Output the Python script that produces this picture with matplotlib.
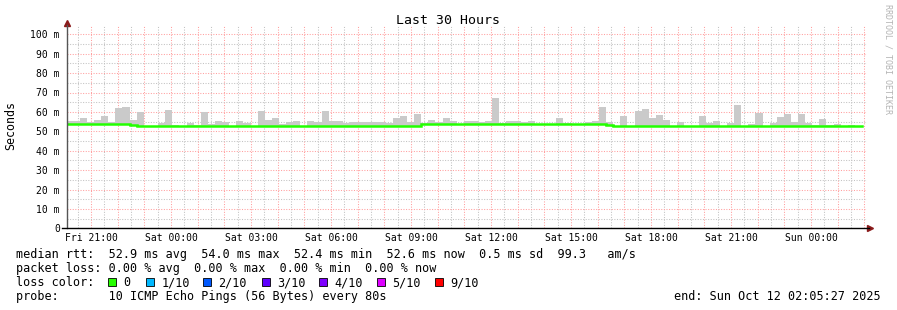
import matplotlib
matplotlib.use('Agg')
import matplotlib.pyplot as plt
from matplotlib.patches import Rectangle
import numpy as np

nan = float('nan')

# time axis is in hours counted from Fri 00:00
t_start = 20 + 3 / 60          # first smoke bar
t_step = 16 / 60               # 16 minute consolidation step
t_end = 20 + 5 / 60 + 27 / 3600 + 30   # Sun 02:05:27

# top of the smoke (ms) for every step, nan = nothing above the median
smoke_top = [
    55.2, 55.2, 57.1, 54.8, 56.0, 58.1, 54.8, 62.2, 62.7, 56.0,
    60.2, nan, nan, 54.2, 61.2, 53.5, nan, 54.2, 53.5, 60.2,
    53.8, 55.5, 54.8, nan, 55.5, 54.2, nan, 60.7, 56.0, 56.6,
    53.6, 54.7, 55.2, nan, 55.5, 54.7, 60.7, 55.5, 55.2, 54.2,
    54.7, 55.0, 54.7, 54.7, 54.7, 54.2, 56.7, 57.8, 54.7, 58.8,
    54.2, 56.0, 55.0, 57.1, 55.2, nan, 55.5, 55.5, 54.8, 55.5,
    67.4, 54.3, 55.5, 55.5, 54.8, 55.2, nan, nan, nan, 56.6,
    54.5, nan, nan, 55.0, 55.5, 62.7, 55.0, nan, 58.1, nan,
    60.7, 61.7, 57.1, 58.6, 56.0, nan, 55.0, nan, nan, 58.1,
    54.2, 55.5, nan, 54.5, 63.6, nan, 53.6, 59.4, nan, 54.3,
    57.4, 58.9, 54.8, 58.9, 54.3, 53.3, 56.2, 53.3, 53.6, nan,
    53.0, nan,
]

# median rtt (ms) for every step
median = [
    54.0, 54.0, 54.0, 54.0, 54.0, 54.0, 54.0, 54.0, 54.0, 53.4,
    52.5, 52.5, 52.5, 52.5, 52.5, 52.5, 52.5, 52.5, 52.5, 52.5,
    52.5, 52.5, 52.5, 52.5, 52.5, 52.5, 52.5, 52.5, 52.5, 52.5,
    52.5, 52.5, 52.5, 52.5, 52.5, 52.5, 52.5, 52.5, 52.5, 52.5,
    52.5, 52.5, 52.5, 52.5, 52.5, 52.5, 52.5, 52.5, 52.5, 52.5,
    53.7, 53.7, 53.7, 53.7, 53.7, 53.7, 53.7, 53.7, 53.7, 53.7,
    53.7, 53.7, 53.7, 53.7, 53.7, 53.7, 53.7, 53.7, 53.7, 53.7,
    53.7, 53.7, 53.7, 53.7, 53.7, 53.7, 53.2, 52.6, 52.6, 52.6,
    52.6, 52.6, 52.6, 52.6, 52.6, 52.6, 52.6, 52.6, 52.6, 52.6,
    52.6, 52.6, 52.6, 52.6, 52.6, 52.6, 52.6, 52.6, 52.6, 52.6,
    52.6, 52.6, 52.6, 52.6, 52.6, 52.6, 52.6, 52.6, 52.6, 52.6,
    52.6, 52.6,
]

tick_hours = [21, 24, 27, 30, 33, 36, 39, 42, 45, 48]
tick_labels = ['Fri 21:00', 'Sat 00:00', 'Sat 03:00', 'Sat 06:00', 'Sat 09:00',
               'Sat 12:00', 'Sat 15:00', 'Sat 18:00', 'Sat 21:00', 'Sun 00:00']
y_ticks = [0, 10, 20, 30, 40, 50, 60, 70, 80, 90, 100]
y_labels = ['0', '10 m', '20 m', '30 m', '40 m', '50 m', '60 m', '70 m', '80 m', '90 m', '100 m']

legend_rows = [
    'median rtt:  52.9 ms avg  54.0 ms max  52.4 ms min  52.6 ms now  0.5 ms sd  99.3   am/s',
    'packet loss: 0.00 % avg  0.00 % max  0.00 % min  0.00 % now',
    'loss color:',
    'probe:       10 ICMP Echo Pings (56 Bytes) every 80s',
]
loss_labels = ['0', '1/10', '2/10', '3/10', '4/10', '5/10', '9/10']
loss_colors = ['#26ff00', '#00b8ff', '#0059ff', '#5e00ff', '#7e00ff', '#dd00ff', '#ff0000']
end_text = 'end: Sun Oct 12 02:05:27 2025'

# ---- layout (pixels) ----
W, H = 897, 310
mono = 'DejaVu Sans Mono'


def fx(x):
    return x / W


def fy(y):
    return 1 - y / H


fig = plt.figure(figsize=(W / 100, H / 100), dpi=100)
fig.patch.set_facecolor('white')
ax = fig.add_axes([fx(66.7), fy(228.3), 800 / W, 203.3 / H])
ax.set_xlim(t_end - 30, t_end)
ax.set_ylim(0, 203.3 / 1.94)

# grid
dot = (0, (1, 1.5))
red_grid = '#ff9f9f'
grey_grid = '#c2c2c2'
for h in np.arange(np.ceil((t_end - 30) * 2) / 2, t_end, 0.5):
    c = red_grid if h % 1 == 0 else grey_grid
    ax.axvline(h, color=c, lw=0.75, ls=dot, zorder=0)
for v in range(5, 105, 5):
    c = red_grid if v % 10 == 0 else grey_grid
    ax.axhline(v, color=c, lw=0.75, ls=dot, zorder=0)

# smoke
starts = t_start + t_step * np.arange(len(median))
top = np.array(smoke_top)
med = np.array(median)
ok = ~np.isnan(top)
ax.bar(starts[ok], top[ok] - med[ok], bottom=med[ok], width=t_step, align='edge',
       color='#cacaca', linewidth=0, zorder=2)

# median line
edges = t_start + t_step * np.arange(len(median) + 1)
ax.step(edges, list(median) + [median[-1]], where='post', color='#22ff00',
        lw=1.8, zorder=3, solid_joinstyle='miter')

# axes
for s in ax.spines.values():
    s.set_visible(False)
ax.plot([0, 0], [0, 1], transform=ax.transAxes, color='#555555', lw=1, clip_on=False, zorder=4)
ax.plot([-0.006, 1.003], [0, 0], transform=ax.transAxes, color='#000000', lw=1, clip_on=False, zorder=4)
ax.plot([0], [1.01], marker='^', ms=4, color='#8b1a1a', transform=ax.transAxes, clip_on=False)
ax.plot([1.004], [0], marker='>', ms=4, color='#8b1a1a', transform=ax.transAxes, clip_on=False)

ax.set_xticks(tick_hours)
ax.set_xticklabels(tick_labels, fontfamily=mono, fontsize=7)
ax.set_yticks(y_ticks)
ax.set_yticklabels(y_labels, fontfamily=mono, fontsize=7)
ax.tick_params(axis='both', length=0, colors='#000000')
ax.tick_params(axis='x', pad=3.5)
ax.tick_params(axis='y', pad=5)

# title and labels
fig.text(fx(447.5), fy(20), 'Last 30 Hours', ha='center', va='center',
         fontfamily=mono, fontsize=9.5)
fig.text(fx(11), fy(126), 'Seconds', ha='center', va='center', rotation=90,
         fontfamily=mono, fontsize=8.4)
fig.text(fx(888), fy(59), 'RRDTOOL / TOBI OETIKER', ha='center', va='center',
         rotation=270, fontfamily=mono, fontsize=6, color='#b4b4b4')

# legend
fs = 8.5
row_y = [254.3, 268.3, 282.5, 296.5]
for txt, y in zip(legend_rows, row_y):
    fig.text(fx(16), fy(y), txt, ha='left', va='center', fontfamily=mono, fontsize=fs)

box_x = [108, 146, 203, 262, 319, 377, 435]
for bx, lab, col in zip(box_x, loss_labels, loss_colors):
    fig.patches.append(Rectangle((fx(bx), fy(286)), 8 / W, 8 / H, transform=fig.transFigure,
                                 facecolor=col, edgecolor='black', lw=0.6))
    fig.text(fx(bx + 15.5), fy(row_y[2]), lab, ha='left', va='center',
             fontfamily=mono, fontsize=fs)

fig.text(fx(881), fy(row_y[3]), end_text, ha='right', va='center', fontfamily=mono, fontsize=fs)

fig.savefig('out.png', dpi=100)
